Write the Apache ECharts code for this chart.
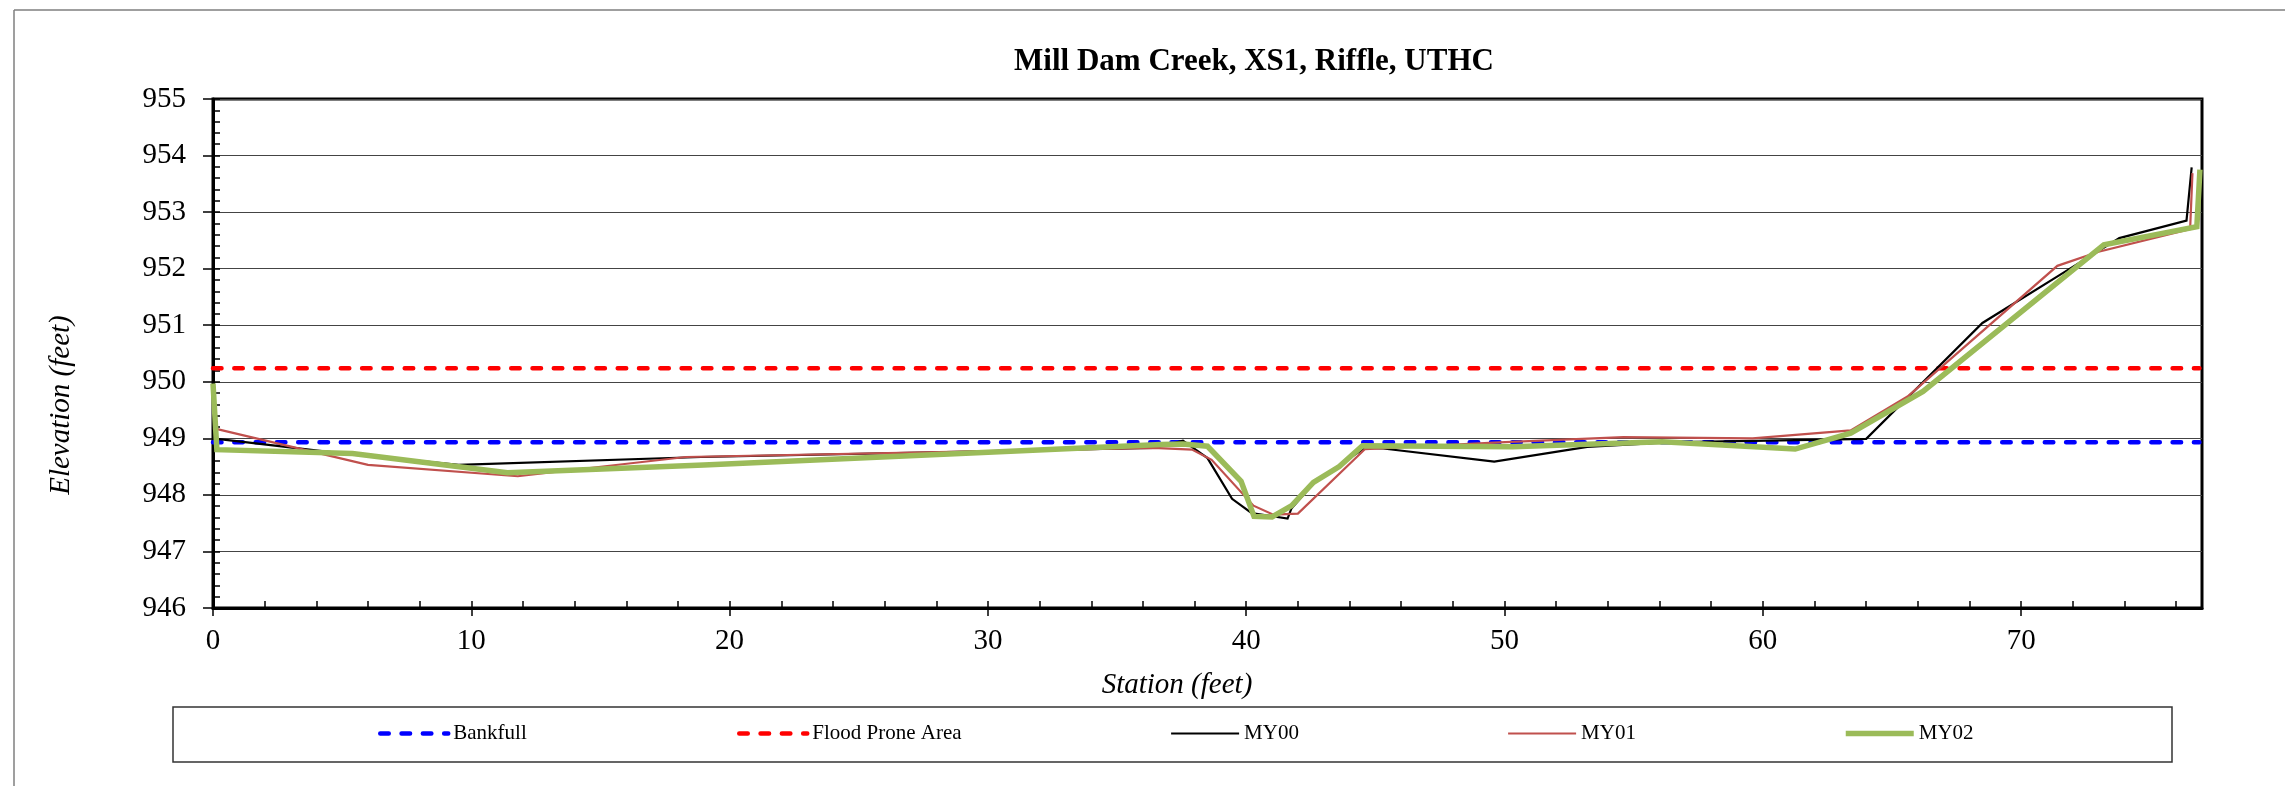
<!DOCTYPE html>
<html>
<head>
<meta charset="utf-8">
<title>Mill Dam Creek, XS1, Riffle, UTHC</title>
<script src="https://cdn.jsdelivr.net/npm/echarts@6/dist/echarts.min.js"></script>
<style>
  html, body { margin: 0; padding: 0; background: #ffffff; }
  #chart { width: 2285px; height: 786px; }
</style>
</head>
<body>
<div id="chart"></div>
<script>
// Cross-section survey, station (ft) vs elevation (ft)
const chartTitle = 'Mill Dam Creek, XS1, Riffle, UTHC';
const xTitle = 'Station (feet)';
const yTitle = 'Elevation (feet)';

const xMin = 0, xMax = 77, xMinorStep = 2;
const xTickValues = [0, 10, 20, 30, 40, 50, 60, 70];
const yMin = 946, yMax = 955, yStep = 1, yMinorStep = 0.2;

// Reference elevations, drawn across the section
const refStations = [0, 76.9];
const bankfullElev = 948.93;
const floodProneElev = 950.24;

// MY00 survey
const my00Station = [0, 4.3, 9.5, 18.9, 36.4, 37.55, 38.5, 39.45, 40.2, 41.6, 41.75, 42.6, 43.9, 44.6, 45.3, 49.6, 53.2, 56.3, 64.0, 68.5, 71.5, 73.8, 76.4, 76.6];
const my00Elev = [949.0, 948.77, 948.53, 948.67, 948.83, 948.96, 948.65, 947.93, 947.68, 947.58, 947.76, 948.2, 948.62, 948.83, 948.82, 948.59, 948.85, 948.93, 948.99, 951.04, 951.89, 952.54, 952.85, 953.79];

// MY01 survey
const my01Station = [0, 6.0, 11.8, 18.3, 36.4, 37.9, 38.66, 40.28, 41.05, 42.0, 44.6, 49.8, 54.6, 59.6, 63.4, 65.6, 71.4, 73.0, 76.54, 76.63];
const my01Elev = [949.18, 948.53, 948.33, 948.67, 948.83, 948.8, 948.62, 947.81, 947.65, 947.67, 948.81, 948.93, 949.02, 949.0, 949.14, 949.74, 952.05, 952.3, 952.7, 953.69];

// MY02 survey
const my02Station = [0, 0.15, 5.4, 11.4, 19.0, 36.7, 37.55, 38.5, 39.8, 40.3, 41.0, 41.76, 42.6, 43.6, 44.5, 50.3, 56.1, 61.25, 63.4, 66.2, 73.2, 76.8, 76.92];
const my02Elev = [949.97, 948.8, 948.73, 948.39, 948.53, 948.89, 948.9, 948.86, 948.24, 947.62, 947.61, 947.81, 948.22, 948.5, 948.87, 948.85, 948.94, 948.81, 949.09, 949.83, 952.42, 952.74, 953.75];

const seriesNames = ['Bankfull', 'Flood Prone Area', 'MY00', 'MY01', 'MY02'];

const pairs = (xs, ys) => xs.map((x, i) => [x, ys[i]]);
const flat = (xs, v) => xs.map(x => [x, v]);

const serif = '"Liberation Serif", "DejaVu Serif", serif';
const dash = [8.5, 12.8];

// per-series line look: colour, width, dash pattern
const styles = {
  'Bankfull':         { color: '#0000ff', width: 4.5, type: dash },
  'Flood Prone Area': { color: '#ff0000', width: 4.5, type: dash },
  'MY00':             { color: '#000000', width: 2.2, type: 'solid' },
  'MY01':             { color: '#c0504d', width: 2.2, type: 'solid' },
  'MY02':             { color: '#9bbb59', width: 5.5, type: 'solid' }
};
const legendLeft = { 'Bankfull': 378, 'Flood Prone Area': 737, 'MY00': 1170, 'MY01': 1507, 'MY02': 1843 };

const chart = echarts.init(document.getElementById('chart'), null, { renderer: 'canvas' });

const commonX = { type: 'value', min: xMin, max: xMax, gridIndex: 0, position: 'bottom' };
const commonY = { type: 'value', min: yMin, max: yMax, gridIndex: 0, position: 'left' };

const lineSeries = (name, data) => {
  const s = styles[name];
  const dashed = s.type !== 'solid';
  return {
    name, type: 'line', data, xAxisIndex: 0, yAxisIndex: 0,
    symbol: 'none', showSymbol: false, smooth: false,
    lineStyle: { color: s.color, width: s.width, type: s.type, cap: dashed ? 'round' : 'butt', join: 'miter' },
    itemStyle: { color: s.color },
    emphasis: { disabled: true }
  };
};

const legends = seriesNames.map(name => {
  const s = styles[name];
  const dashed = s.type !== 'solid';
  return {
    data: [name],
    left: legendLeft[name],
    top: 723,
    orient: 'horizontal',
    padding: 0,
    itemWidth: 68,
    itemHeight: 14,
    selectedMode: false,
    itemStyle: { opacity: 0 },
    lineStyle: { width: s.width, color: s.color, type: s.type, cap: dashed ? 'round' : 'butt' },
    textStyle: { fontFamily: serif, fontSize: 21, color: '#000' }
  };
});

chart.setOption({
  animation: false,
  backgroundColor: '#ffffff',
  title: {
    text: chartTitle,
    left: 1254,
    textAlign: 'center',
    top: 46,
    padding: 0,
    textStyle: { fontFamily: serif, fontWeight: 'bold', fontSize: 31, color: '#000' }
  },
  legend: legends,
  grid: { left: 213, right: 83, top: 99, bottom: 178, show: true, borderColor: '#000', borderWidth: 3, backgroundColor: 'transparent' },
  xAxis: [
    Object.assign({}, commonX, {
      axisLine: { show: true, lineStyle: { color: '#000', width: 3 } },
      axisTick: { show: true, inside: false, length: 8, customValues: xTickValues, lineStyle: { color: '#000', width: 1.5 } },
      minorTick: { show: false },
      splitLine: { show: false },
      axisLabel: { margin: 19, customValues: xTickValues, fontFamily: serif, fontSize: 29, color: '#000' }
    }),
    Object.assign({}, commonX, {
      interval: xMinorStep,
      axisLine: { show: false },
      axisTick: { show: true, inside: true, length: 7, lineStyle: { color: '#000', width: 1.5 } },
      splitLine: { show: false },
      axisLabel: { show: false }
    })
  ],
  yAxis: [
    Object.assign({}, commonY, {
      interval: yStep,
      axisLine: { show: true, lineStyle: { color: '#000', width: 3 } },
      axisTick: { show: true, inside: false, length: 10, lineStyle: { color: '#000', width: 1.5 } },
      splitLine: { show: true, lineStyle: { color: '#444', width: 1.2 } },
      axisLabel: { margin: 27, fontFamily: serif, fontSize: 29, color: '#000' }
    }),
    Object.assign({}, commonY, {
      interval: yMinorStep,
      axisLine: { show: false },
      axisTick: { show: true, inside: true, length: 7, lineStyle: { color: '#000', width: 1.5 } },
      splitLine: { show: false },
      axisLabel: { show: false }
    })
  ],
  series: [
    lineSeries('Bankfull', flat(refStations, bankfullElev)),
    lineSeries('Flood Prone Area', flat(refStations, floodProneElev)),
    lineSeries('MY00', pairs(my00Station, my00Elev)),
    lineSeries('MY01', pairs(my01Station, my01Elev)),
    lineSeries('MY02', pairs(my02Station, my02Elev))
  ],
  graphic: [
    // outer frame edges
    { type: 'line', shape: { x1: 14, y1: 10, x2: 2285, y2: 10 }, style: { stroke: '#7f7f7f', lineWidth: 1.5 }, silent: true },
    { type: 'line', shape: { x1: 14, y1: 10, x2: 14, y2: 786 }, style: { stroke: '#7f7f7f', lineWidth: 1.5 }, silent: true },
    // legend box
    { type: 'rect', shape: { x: 173, y: 707, width: 1999, height: 55 }, style: { fill: 'none', stroke: '#333', lineWidth: 1.5 }, silent: true, z: -1 },
    // axis titles
    { type: 'text', x: 1177, y: 685, silent: true,
      style: { text: xTitle, font: 'italic 29px ' + serif, fill: '#000', align: 'center', verticalAlign: 'middle' } },
    { type: 'text', x: 61, y: 405, rotation: Math.PI / 2, silent: true,
      style: { text: yTitle, font: 'italic 29px ' + serif, fill: '#000', align: 'center', verticalAlign: 'middle' } }
  ]
});
</script>
</body>
</html>
